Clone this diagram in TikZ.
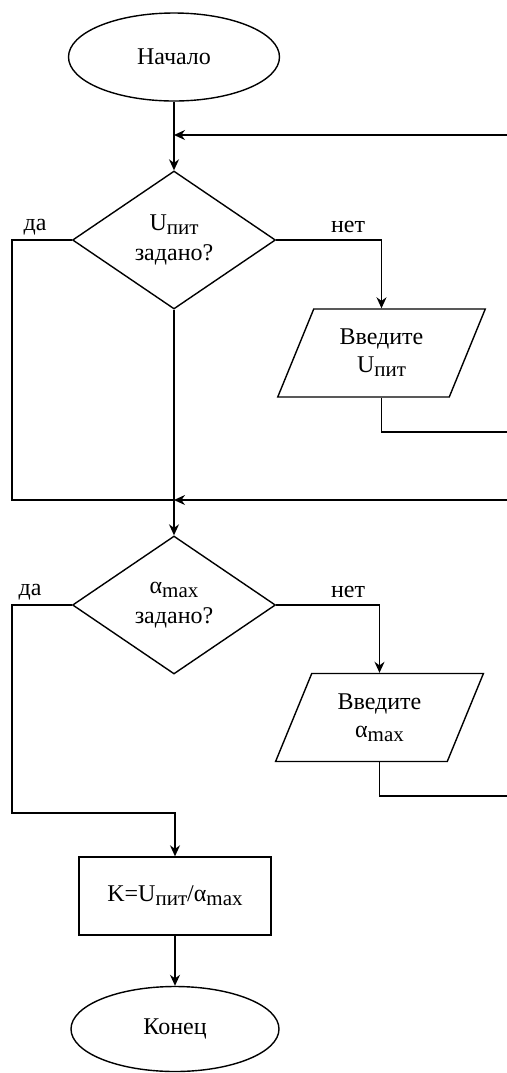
\documentclass[tikz,border=0pt]{standalone}
\usepackage{fontspec}
\setmainfont{Liberation Serif}
\usetikzlibrary{shapes.geometric,arrows.meta}
\newcommand{\subtxt}[1]{\raisebox{-2pt}{\fontsize{10.5}{12}\selectfont #1}}
\begin{document}
\begin{tikzpicture}[x=0.5pt,y=-0.5pt,
  every node/.style={font=\fontsize{12}{14}\selectfont, align=center, inner sep=0pt},
  line/.style={draw=black, line width=0.7pt},
  arr/.style={line, -{Stealth[length=5.5pt,width=5pt]}},
  term/.style={ellipse, line},
  decision/.style={diamond, line, minimum width=101.5pt, minimum height=69pt},
  io/.style={trapezium, trapezium left angle=65, trapezium right angle=115,
    trapezium stretches=true, line, minimum width=104.5pt, minimum height=44pt},
  proc/.style={rectangle, line, minimum width=96pt, minimum height=39pt},
  lbl/.style={font=\fontsize{12}{14}\selectfont}
]
\useasboundingbox (0,0) rectangle (507,1073);
\clip (0,0) rectangle (507,1073);

\node[term, minimum width=105.5pt, minimum height=44pt] (start) at (174,57) {Начало};
\node[decision] (d1) at (174,240) {U\subtxt{пит}\\[1pt]задано?};
\node[io] (p1) at (381.5,353) {Введите\\U\subtxt{пит}};
\node[decision] (d2) at (174,605) {α\subtxt{max}\\[1pt]задано?};
\node[io] (p2) at (379.5,717.5) {Введите\\α\subtxt{max}};
\node[proc] (k) at (175,896) {K=U\subtxt{пит}/α\subtxt{max}};
\node[term, minimum width=104pt, minimum height=42.5pt] (end) at (175,1029) {Конец};

\coordinate (j1) at (174,135);
\coordinate (j2) at (174,500);
\coordinate (r1) at (520,432);
\coordinate (r1t) at (520,135);
\coordinate (r2) at (520,796);
\coordinate (r2t) at (520,500);
\coordinate (l1) at (12,500);
\coordinate (l2) at (12,813);

\node[lbl] (da1) at (35,227) {да};
\node[lbl] (net1) at (348,227) {нет};
\node[lbl] (da2) at (30,592) {да};
\node[lbl] (net2) at (348,592) {нет};

\draw[arr] (start.south) -- (d1.north);
\draw[arr] (p1.south) |- (r1) -- (r1t) -- (j1);
\draw[arr] (d1.east) -| (p1.north);
\draw[line] (d1.west) -| (l1) -- (j2);
\draw[arr] (d1.south) -- (d2.north);
\draw[arr] (p2.south) |- (r2) -- (r2t) -- (j2);
\draw[arr] (d2.east) -| (p2.north);
\draw[arr] (d2.west) -| (l2) -| (k.north);
\draw[arr] (k.south) -- (end.north);
\end{tikzpicture}
\end{document}
